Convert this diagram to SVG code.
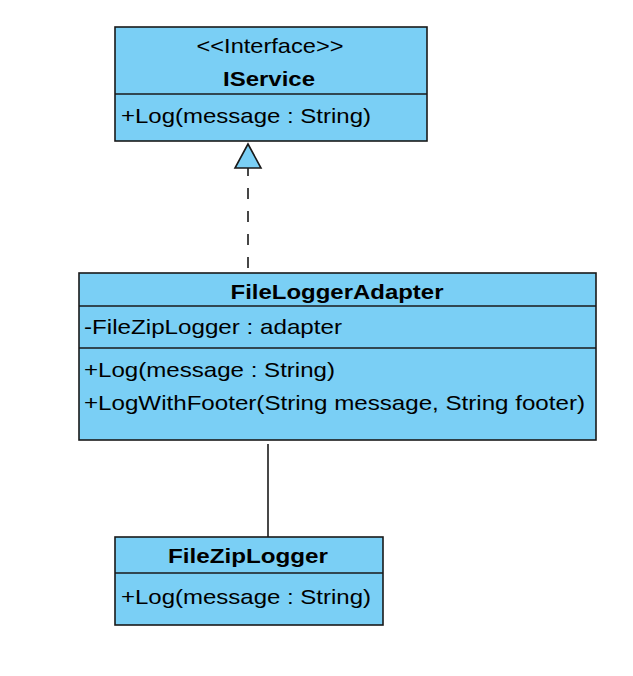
<svg xmlns="http://www.w3.org/2000/svg" width="633" height="676" viewBox="0 0 633 676">
<style>
.box{fill:#7ACFF5;stroke:#1a1a1a;stroke-width:1.6}
.div{stroke:#1a1a1a;stroke-width:1.6}
.t{font-family:"Liberation Sans",Arial,sans-serif;font-size:21px;fill:#000}
.b{font-weight:bold}
.conn{stroke:#1a1a1a;stroke-width:1.6;fill:none}
</style>
<rect width="633" height="676" fill="#fff"/>
<g id="connectors">
<line class="conn" x1="248" y1="165" x2="248" y2="268" stroke-dasharray="11 12"/>
<polygon points="248,144 235,168 261,168" fill="#7ACFF5" stroke="#1a1a1a" stroke-width="1.6"/>
<line class="conn" x1="268" y1="444" x2="268" y2="537"/>
</g>
<g id="IService">
<rect class="box" x="115" y="27" width="312" height="114"/>
<line class="div" x1="115" y1="94" x2="427" y2="94"/>
<text class="t" x="270" y="53" text-anchor="middle" textLength="147" lengthAdjust="spacingAndGlyphs">&lt;&lt;Interface&gt;&gt;</text>
<text class="t b" x="269" y="86" text-anchor="middle" textLength="92" lengthAdjust="spacingAndGlyphs">IService</text>
<text class="t" x="121" y="123" textLength="250" lengthAdjust="spacingAndGlyphs">+Log(message : String)</text>
</g>
<g id="FileLoggerAdapter">
<rect class="box" x="79" y="273" width="517" height="167"/>
<line class="div" x1="79" y1="306" x2="596" y2="306"/>
<line class="div" x1="79" y1="348" x2="596" y2="348"/>
<text class="t b" x="337" y="299" text-anchor="middle" textLength="213" lengthAdjust="spacingAndGlyphs">FileLoggerAdapter</text>
<text class="t" x="84" y="334" textLength="258" lengthAdjust="spacingAndGlyphs">-FileZipLogger : adapter</text>
<text class="t" x="84" y="377" textLength="251" lengthAdjust="spacingAndGlyphs">+Log(message : String)</text>
<text class="t" x="84" y="410" textLength="501" lengthAdjust="spacingAndGlyphs">+LogWithFooter(String message, String footer)</text>
</g>
<g id="FileZipLogger">
<rect class="box" x="115" y="537" width="268" height="88"/>
<line class="div" x1="115" y1="573" x2="383" y2="573"/>
<text class="t b" x="248" y="563" text-anchor="middle" textLength="160" lengthAdjust="spacingAndGlyphs">FileZipLogger</text>
<text class="t" x="121" y="604" textLength="250" lengthAdjust="spacingAndGlyphs">+Log(message : String)</text>
</g>
</svg>
